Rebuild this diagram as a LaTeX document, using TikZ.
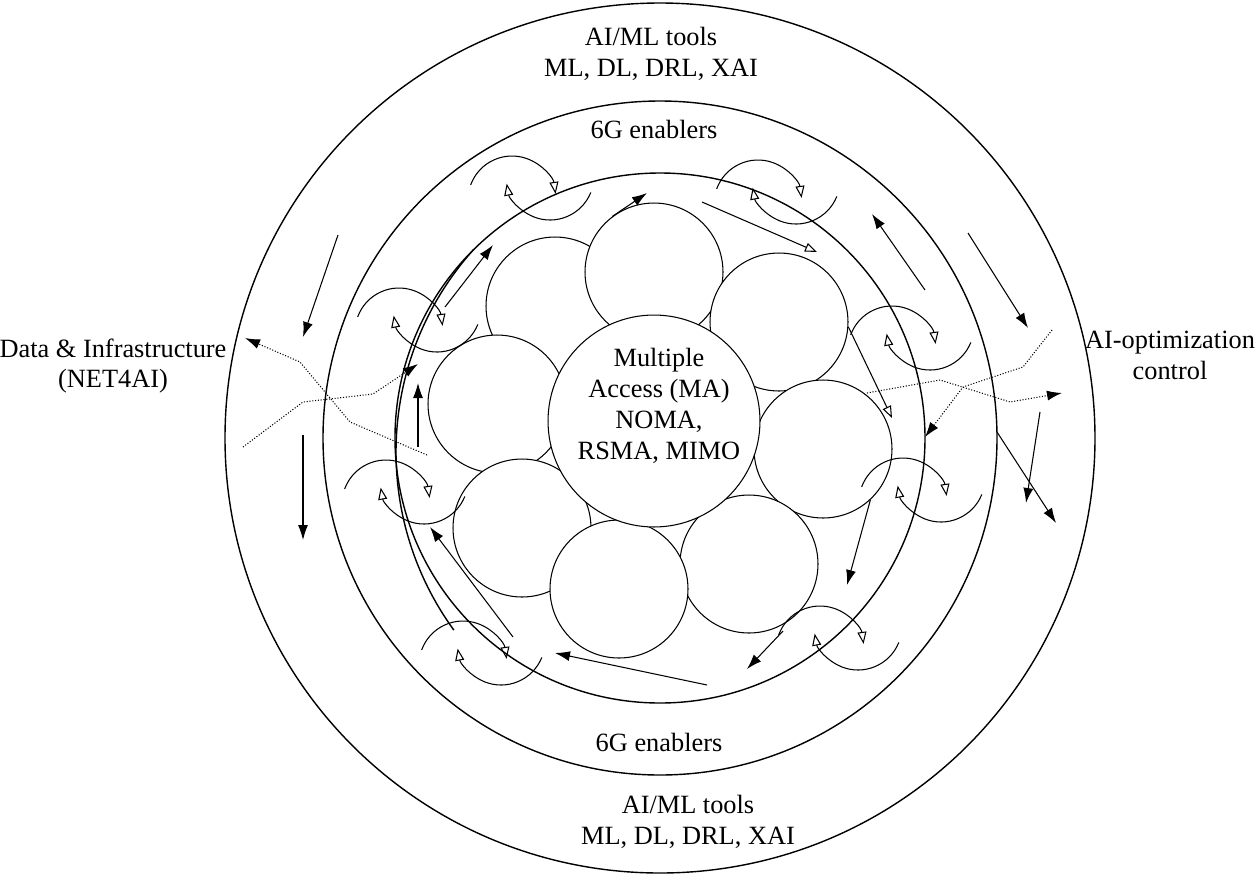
\documentclass[tikz,border=0pt]{standalone}
\usepackage{fontspec}
\setmainfont{Liberation Serif}
\usetikzlibrary{arrows.meta}
\tikzset{every picture/.style={x=0.02cm,y=-0.02cm,line width=0.6pt}}
\tikzset{ring/.style={draw,line width=0.8pt}}
\tikzset{cell/.style={circle,draw,fill=white,inner sep=0pt,minimum size=2.76cm}}
\tikzset{core/.style={circle,draw,fill=white,inner sep=0pt,minimum size=4.24cm}}
\tikzset{edge/.style={-{Latex[length=3mm,width=2mm]}}}
\tikzset{oedge/.style={-{Triangle[open,length=2.4mm,width=1.8mm]}}}
\tikzset{flow/.style={densely dotted,-{Latex[length=3mm,width=2mm]}}}
\tikzset{annot/.style={font=\fontsize{15}{17.6}\selectfont,align=center,inner sep=0pt}}
\tikzset{twirl/.pic={
\draw [oedge] (-19,12) ++(200:44) arc [start angle=200,end angle=352,radius=44];
\draw [oedge] (19,-12) ++(22:44) arc [start angle=22,end angle=170,radius=44];
}}

\begin{document}
\begin{tikzpicture}
\useasboundingbox (0,0) rectangle (1255,877);
\coordinate (o) at (660,438);
\draw [ring] (o) circle [radius=435];
\draw [ring] (o) circle [radius=337];
\draw [ring] (o) circle [radius=265];
\draw [ring] (699,452) ++(144:303) arc [start angle=144,end angle=222,radius=303];

\node [cell] (c2) at (555,306) {};
\node [cell] (c1) at (654,272) {};
\node [cell] (c3) at (779,322) {};
\node [cell] (c4) at (497,404) {};
\node [cell] (c5) at (823,449) {};
\node [cell] (c6) at (522,528) {};
\node [cell] (c8) at (749,564) {};
\node [cell] (c7) at (619,589) {};
\node [core] (ma) at (654,421) {};

\pic at (531,188) {twirl};
\pic at (777,192) {twirl};
\pic at (418,320) {twirl};
\pic at (405,492) {twirl};
\pic at (911,338) {twirl};
\pic at (922,490) {twirl};
\pic at (482,653) {twirl};
\pic at (839,638) {twirl};

\coordinate (a1) at (338,235);
\coordinate (b1) at (303,337);
\coordinate (a2) at (303,435);
\coordinate (b2) at (303,540);
\coordinate (a3) at (418,447);
\coordinate (b3) at (418,383);
\coordinate (a4) at (445,307);
\coordinate (b4) at (493,245);
\coordinate (b5) at (647,193);
\coordinate (a6) at (702,202);
\coordinate (b6) at (817,252);
\coordinate (a7) at (925,290);
\coordinate (b7) at (872,214);
\coordinate (a8) at (968,233);
\coordinate (b8) at (1028,328);
\coordinate (b9) at (892,418);
\coordinate (a10) at (1040,412);
\coordinate (b10) at (1026,503);
\coordinate (a11) at (997,432);
\coordinate (b11) at (1056,523);
\coordinate (b12) at (847,585);
\coordinate (a13) at (783,631);
\coordinate (b13) at (747,669);
\coordinate (a14) at (707,685);
\coordinate (b14) at (555,653);
\coordinate (a15) at (513,637);
\coordinate (b15) at (430,527);

\draw [edge] (a1) -- (b1);
\draw [edge] (a2) -- (b2);
\draw [edge] (a3) -- (b3);
\draw [edge] (a4) -- (b4);
\draw [edge] (c1.127) -- (b5);
\draw [oedge] (a6) -- (b6);
\draw [edge] (a7) -- (b7);
\draw [edge] (a8) -- (b8);
\draw [oedge] (c3.-4) -- (b9);
\draw [edge] (a10) -- (b10);
\draw [edge] (a11) -- (b11);
\draw [edge] (c5.-47) -- (b12);
\draw [edge] (a13) -- (b13);
\draw [edge] (a14) -- (b14);
\draw [edge] (a15) -- (b15);

\coordinate (p1) at (427,455);
\coordinate (p2) at (350,422);
\coordinate (p3) at (300,362);
\coordinate (p4) at (245,338);
\coordinate (q1) at (243,447);
\coordinate (q2) at (303,402);
\coordinate (q3) at (373,394);
\coordinate (q4) at (418,364);
\coordinate (r1) at (867,393);
\coordinate (r2) at (940,380);
\coordinate (r3) at (1010,402);
\coordinate (r4) at (1062,393);
\coordinate (s1) at (1052,330);
\coordinate (s2) at (1023,367);
\coordinate (s3) at (963,387);
\coordinate (s4) at (925,437);
\draw [flow] (p1) -- (p2) -- (p3) -- (p4);
\draw [flow] (q1) -- (q2) -- (q3) -- (q4);
\draw [flow] (r1) -- (r2) -- (r3) -- (r4);
\draw [flow] (s1) -- (s2) -- (s3) -- (s4);

\node [annot] (matext) at (659,406) {Multiple\\Access (MA)\\NOMA,\\RSMA, MIMO};
\node [annot] (ttop) at (651,54) {AI/ML tools\\ML, DL, DRL, XAI};
\node [annot] (etop) at (654,129) {6G enablers};
\node [annot] (ebot) at (659,742) {6G enablers};
\node [annot] (tbot) at (688,822) {AI/ML tools\\ML, DL, DRL, XAI};
\node [annot] (data) at (113,366) {Data \& Infrastructure\\(NET4AI)};
\node [annot] (opt) at (1170,355) {AI-optimization\\control};
\end{tikzpicture}
\end{document}
